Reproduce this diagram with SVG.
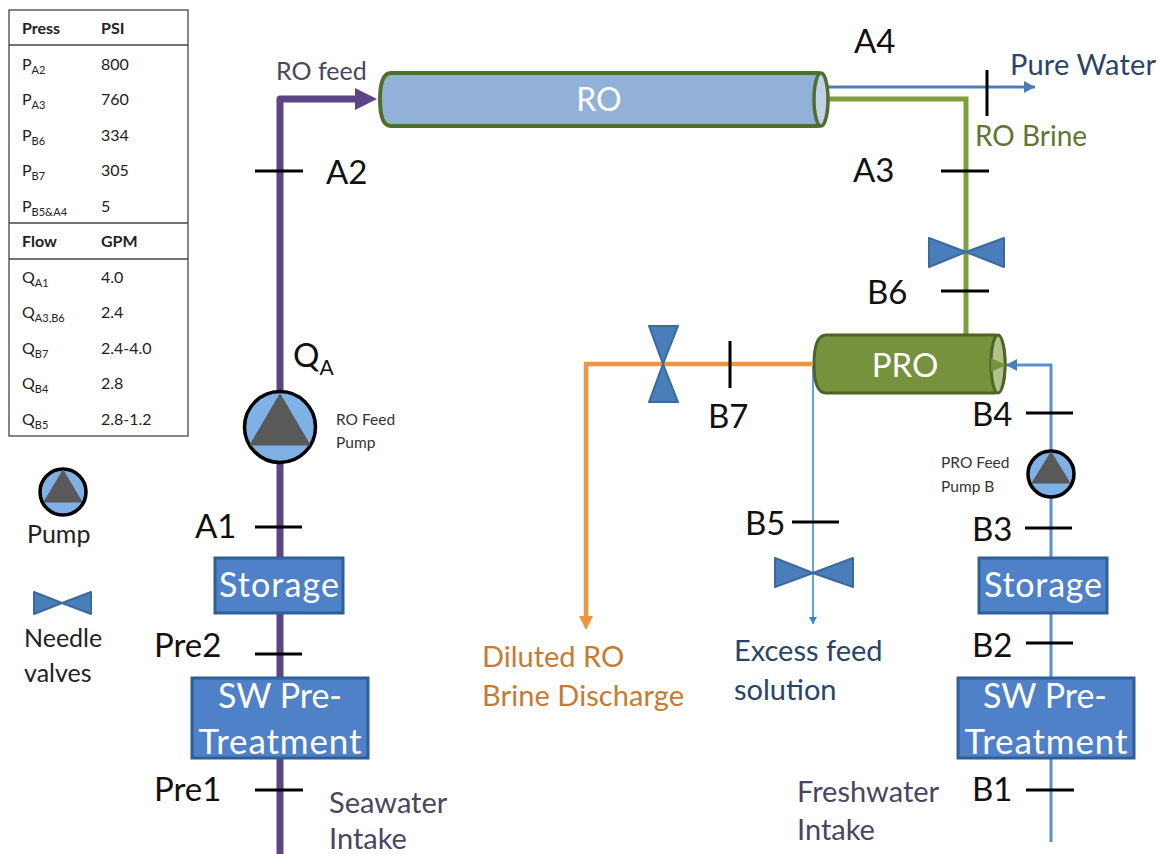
<svg xmlns="http://www.w3.org/2000/svg" width="1160" height="854" viewBox="0 0 1160 854">
<defs>
<style>
text{font-family:Lato,"Liberation Sans",sans-serif}
.k{fill:#111;font-size:33px}
.tb{fill:#222;font-size:16px}
.th{fill:#222;font-size:16px;font-weight:700}
.sub{font-size:11px}
.w{fill:#fff;text-anchor:middle}
.box{fill:#4f81c9;stroke:#2e5f95;stroke-width:3}
.tick{stroke:#000;stroke-width:3;fill:none}
.valve{fill:#4a7ebb;stroke:#3a6a9e;stroke-width:2;stroke-linejoin:round}
.navy{fill:#2a4468;font-size:29px}
.pl{fill:#4a4560;font-size:29px}
.or{fill:#c77a30;font-size:29px}
.small{fill:#333;font-size:15.500px}
.pb{fill:#7fb0e6;stroke:#000;stroke-width:3.500}
.pt{fill:#595959;stroke:#595959;stroke-width:1}
.grid{stroke:#444;stroke-width:1.300;fill:none}
</style>
<marker id="ab" markerUnits="userSpaceOnUse" markerWidth="12" markerHeight="12" refX="11" refY="6" orient="auto"><path d="M0,0 L11,6 L0,12 Z" fill="#4a7ebb"/></marker>
<marker id="at" markerUnits="userSpaceOnUse" markerWidth="8" markerHeight="8" refX="7" refY="4" orient="auto"><path d="M0,0 L7,4 L0,8 Z" fill="#2e86c8"/></marker>
</defs>
<rect width="1160" height="854" fill="#fff"/>

<g id="connectors" fill="none">
<path d="M280,854 V99 H358" stroke="#5c4585" stroke-width="7" stroke-linejoin="round"/>
<path d="M355,88 L377,99 L355,110 Z" fill="#5c4585"/>
<path d="M826,87 H1035" stroke="#4a7ebb" stroke-width="3" marker-end="url(#ab)"/>
<path d="M826,99 H966 V336" stroke="#7f9f3f" stroke-width="5"/>
<path d="M812,364 H586 V620" stroke="#f0953f" stroke-width="4.500"/>
<path d="M579,616 H593 L586,630 Z" fill="#f0953f"/>
<path d="M813,366 V624" stroke="#2e86c8" stroke-width="1.500" marker-end="url(#at)"/>
<path d="M1051,842 V365 H1006" stroke="#5b8fcf" stroke-width="3" marker-end="url(#ab)"/>
</g>

<g id="ticks">
<path class="tick" d="M255,171 H303 M255,527 H302 M255,654 H302 M255,790 H303 M941,171 H989 M987,70 V116 M941,291 H989 M730,341 V388 M792,522 H839 M1026,413 H1073 M1025,528 H1072 M1026,643 H1073 M1026,790 H1074"/>
</g>

<g id="node-ro">
<path d="M391,73 H818 Q826,73 826,99.500 Q826,126 818,126 H391 Q380,126 380,99.500 Q380,73 391,73 Z" fill="#92b1d9" stroke="#4f6f2e" stroke-width="4"/>
<ellipse cx="821" cy="99.500" rx="7" ry="26.500" fill="#c0d2e8" stroke="#4f6f2e" stroke-width="3.500"/>
<text class="w" x="599" y="111" font-size="32">RO</text>
</g>

<g id="node-pro">
<path d="M826,335 H995 Q1005,335 1005,364 Q1005,393 995,393 H826 Q814,393 814,364 Q814,335 826,335 Z" fill="#76923c" stroke="#4f6228" stroke-width="3"/>
<ellipse cx="998" cy="364" rx="7" ry="29" fill="#b0c286" stroke="#4f6228" stroke-width="3"/>
<path d="M991,358 L1006,365 L991,372 Z" fill="#76923c"/>
<text class="w" x="905" y="377" font-size="33">PRO</text>
</g>

<g id="node-storage-left"><rect class="box" x="215" y="558" width="128" height="55"/><text class="w" x="279" y="597" font-size="34" textLength="120">Storage</text></g>
<g id="node-pretreat-left"><rect class="box" x="192" y="678" width="176" height="80"/><text class="w" x="280" y="708" font-size="34" textLength="124">SW Pre-</text><text class="w" x="280" y="754" font-size="35" textLength="163">Treatment</text></g>
<g id="node-storage-right"><rect class="box" x="979" y="558" width="128" height="55"/><text class="w" x="1043" y="597" font-size="34" textLength="118">Storage</text></g>
<g id="node-pretreat-right"><rect class="box" x="958" y="678" width="176" height="80"/><text class="w" x="1045" y="708" font-size="34" textLength="124">SW Pre-</text><text class="w" x="1046" y="754" font-size="35" textLength="163">Treatment</text></g>

<g id="node-ro-pump"><circle class="pb" cx="280" cy="427" r="35.500"/><path class="pt" d="M280,394 L310,445 H250 Z"/></g>
<g id="node-pro-pump"><circle class="pb" cx="1051" cy="474" r="23"/><path class="pt" d="M1051,452 L1070,483 H1032 Z"/></g>
<g id="legend-pump"><circle class="pb" cx="63" cy="492" r="23"/><path class="pt" d="M63,470 L82,502 H44 Z"/></g>

<g id="node-valve-a3"><path class="valve" d="M929,238 L966,252 L1004,238 V267 L966,252 L929,267 Z"/></g>
<g id="node-valve-b7"><path class="valve" d="M649,326 H678 L663,364 L678,402 H649 L663,364 Z"/></g>
<g id="node-valve-b5"><path class="valve" d="M775,558 L813,573 L853,558 V587 L813,573 L775,587 Z"/></g>
<g id="legend-valve"><path class="valve" d="M34,592 L62,603 L91,592 V614 L62,603 L34,614 Z"/></g>

<g id="labels">
<text x="276" y="80" font-size="25" fill="#4a4560">RO feed</text>
<text class="k" x="854" y="53">A4</text>
<text class="navy" x="1010" y="75" textLength="146">Pure Water</text>
<text x="975" y="146" font-size="28" fill="#5f7530">RO Brine</text>
<text class="k" x="326" y="184">A2</text>
<text class="k" x="853" y="182">A3</text>
<text class="k" x="867" y="304">B6</text>
<text class="k" x="293" y="367">Q<tspan font-size="21" dy="8">A</tspan></text>
<text class="small" x="336" y="425">RO Feed</text>
<text class="small" x="336" y="448">Pump</text>
<text class="k" x="708" y="428">B7</text>
<text class="k" x="972" y="426">B4</text>
<text class="small" x="941" y="468">PRO Feed</text>
<text class="small" x="941" y="492">Pump B</text>
<text class="k" x="195" y="538">A1</text>
<text class="k" x="745" y="535">B5</text>
<text class="k" x="972" y="541">B3</text>
<text class="k" x="154" y="657">Pre2</text>
<text class="k" x="972" y="657">B2</text>
<text class="k" x="154" y="801">Pre1</text>
<text class="k" x="972" y="801">B1</text>
<text x="27" y="543" font-size="25" fill="#222">Pump</text>
<text x="24" y="647" font-size="25" fill="#222">Needle</text>
<text x="24" y="682" font-size="25" fill="#222">valves</text>
<text class="or" x="482" y="667">Diluted RO</text>
<text class="or" x="482" y="706" textLength="202">Brine Discharge</text>
<text class="navy" x="734" y="661">Excess feed</text>
<text class="navy" x="734" y="700">solution</text>
<text class="pl" x="329" y="813">Seawater</text>
<text class="pl" x="329" y="849">Intake</text>
<text class="pl" x="797" y="802">Freshwater</text>
<text class="pl" x="797" y="840">Intake</text>
</g>

<g id="table">
<rect class="grid" x="9" y="10" width="179" height="426"/>
<path class="grid" d="M9,45 H188 M9,223 H188 M9,259 H188"/>
<text class="th" x="22" y="34">Press</text><text class="th" x="101" y="34">PSI</text>
<text class="tb" x="22" y="70">P<tspan class="sub" dy="4">A2</tspan></text><text class="tb" x="101" y="70">800</text>
<text class="tb" x="22" y="105">P<tspan class="sub" dy="4">A3</tspan></text><text class="tb" x="101" y="105">760</text>
<text class="tb" x="22" y="141">P<tspan class="sub" dy="4">B6</tspan></text><text class="tb" x="101" y="141">334</text>
<text class="tb" x="22" y="176">P<tspan class="sub" dy="4">B7</tspan></text><text class="tb" x="101" y="176">305</text>
<text class="tb" x="22" y="212">P<tspan class="sub" dy="4">B5&amp;A4</tspan></text><text class="tb" x="101" y="212">5</text>
<text class="th" x="22" y="247">Flow</text><text class="th" x="101" y="247">GPM</text>
<text class="tb" x="22" y="283">Q<tspan class="sub" dy="4">A1</tspan></text><text class="tb" x="101" y="283">4.0</text>
<text class="tb" x="22" y="318">Q<tspan class="sub" dy="4">A3,B6</tspan></text><text class="tb" x="101" y="318">2.4</text>
<text class="tb" x="22" y="354">Q<tspan class="sub" dy="4">B7</tspan></text><text class="tb" x="101" y="354">2.4-4.0</text>
<text class="tb" x="22" y="389">Q<tspan class="sub" dy="4">B4</tspan></text><text class="tb" x="101" y="389">2.8</text>
<text class="tb" x="22" y="425">Q<tspan class="sub" dy="4">B5</tspan></text><text class="tb" x="101" y="425">2.8-1.2</text>
</g>
</svg>
